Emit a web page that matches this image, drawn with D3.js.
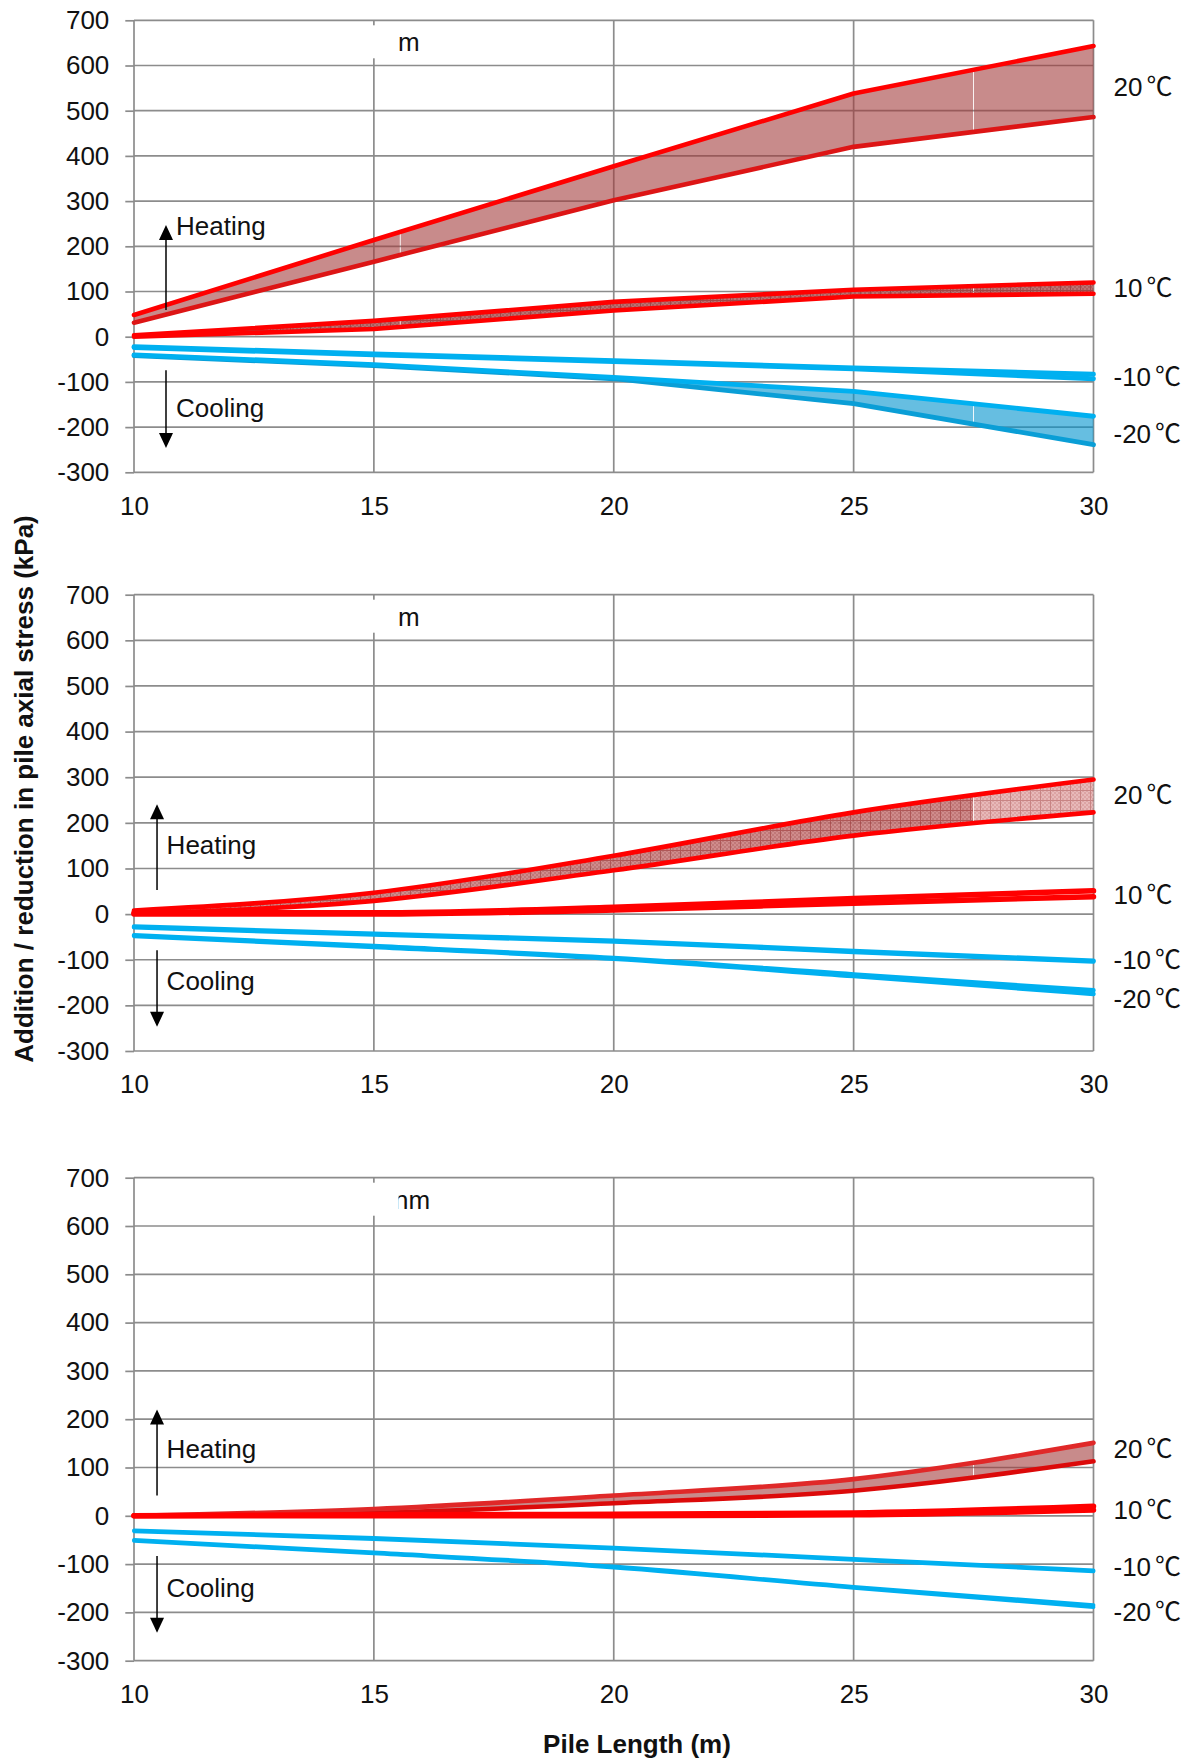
<!DOCTYPE html>
<html>
<head>
<meta charset="utf-8">
<script src="https://cdn.jsdelivr.net/npm/d3@7"></script>
<style>
  body { margin: 0; background: #fff; }
  text { font-family: "Liberation Sans", Arial, "Noto Sans CJK JP", sans-serif; fill: #111; }
  .deg { font-family: "Noto Sans CJK JP", sans-serif; }
</style>
</head>
<body>
<svg id="chart" width="1191" height="1762"></svg>
<script>
// ---- data -------------------------------------------------------------
const pileLength   = [10, 15, 20, 25, 30];
const lengthTicks  = [10, 15, 20, 25, 30];
const stressTicks  = [-300, -200, -100, 0, 100, 200, 300, 400, 500, 600, 700];
const tempLabels   = ["20", "10", "-10", "-20"];   // shown with a ℃ suffix

// Panel A: upper / lower envelope of the axial stress change (kPa)
const a20Upper  = [48, 214, 377, 538, 643];
const a20Lower  = [31, 166, 302, 420, 486];
const a10Upper  = [3, 35, 77, 104, 120];
const a10Lower  = [0, 17, 58, 89, 95];
const aM10Upper = [-22, -38, -53, -69, -83];
const aM10Lower = [-24, -40, -55, -71, -93];
const aM20Upper = [-40, -62, -90, -121, -176];
const aM20Lower = [-42, -64, -93, -148, -239];

// Panel B
const b20Upper  = [8, 47, 128, 223, 295];
const b20Lower  = [1, 29, 96, 172, 223];
const b10Upper  = [3, 3, 15, 34, 51];
const b10Lower  = [0, 0, 9, 24, 38];
const bM10Upper = [-27, -43, -58, -81, -102];
const bM10Lower = [-29, -45, -60, -83, -104];
const bM20Upper = [-46, -70, -96, -132, -167];
const bM20Lower = [-48, -72, -98, -136, -175];

// Panel C
const c20Upper  = [0, 14, 42, 76, 151];
const c20Lower  = [0, 6, 26, 52, 113];
const c10Upper  = [0, 2, 3, 6, 20];
const c10Lower  = [0, 0, 0, 2, 12];
const cM10Upper = [-30, -46, -66, -89, -113];
const cM10Lower = [-32, -48, -68, -91, -115];
const cM20Upper = [-50, -76, -105, -147, -185];
const cM20Lower = [-52, -78, -107, -149, -189];

// stress level (kPa) at which each temperature label sits beside the plot
const aLabelAt = [553, 107, -88, -214];
const bLabelAt = [261, 42, -101, -185];
const cLabelAt = [139, 12, -106, -199];

// ---- layout & styling -------------------------------------------------
const svg = d3.select("#chart");
const x = d3.scaleLinear().domain([10, 30]).range([134, 1093.5]);
const GRID = "#8c8c8c";
const RED = "#ff0000", RED_DK = "#dd1515", BLUE = "#00b0f0", BLUE_DK = "#0a9ed6";
const FS = 26;

const defs = svg.append("defs");

// cross-hatched fill used for some of the envelopes
function hatch(id, bg, dot, line, opacity) {
  const p = defs.append("pattern").attr("id", id)
    .attr("width", 10).attr("height", 10).attr("patternUnits", "userSpaceOnUse");
  const g = p.append("g").attr("opacity", opacity);
  g.append("rect").attr("width", 10).attr("height", 10).attr("fill", bg);
  for (let i = 0; i < 5; i++) for (let j = 0; j < 5; j++)
    if ((i + j) % 2) g.append("rect").attr("x", i * 2).attr("y", j * 2)
      .attr("width", 2).attr("height", 2).attr("fill", dot);
  g.append("path").attr("d", "M0 0.5H10M0.5 0V10").attr("stroke", line).attr("stroke-width", 1);
}
hatch("hatchDark", "#cc8282", "#bb6c6c", "#a84848", 0.92);
hatch("hatchLight", "#e6b3b3", "#d99c9c", "#c47a7a", 0.92);
hatch("hatchThin", "#b86a6a", "#a85555", "#9a4040", 0.95);

const SOLID_RED = "rgba(160,55,55,0.58)";
const SOLID_BLUE = "rgba(0,147,205,0.6)";

const panels = [
  {
    top: 20.3, bottom: 472.3, curve: d3.curveLinear, seams: [15.55, 27.5],
    labelAt: aLabelAt, tag: "m", tagClip: false,
    arrow: { x: 10.667, tx: 10.875, hTip: 247, hBase: 59, hText: 225, cTop: -74, cTip: -246, cText: -178 },
    series: [
      { hi: a20Upper, lo: a20Lower, fill: [SOLID_RED, SOLID_RED, SOLID_RED], cHi: RED, cLo: RED_DK, w: 4.6 },
      { hi: a10Upper, lo: a10Lower, fill: ["url(#hatchThin)"], cHi: RED, cLo: RED, w: 4.6 },
      { hi: aM10Upper, lo: aM10Lower, fill: null, cHi: BLUE, cLo: BLUE, w: 4.8 },
      { hi: aM20Upper, lo: aM20Lower, fill: [SOLID_BLUE, SOLID_BLUE, SOLID_BLUE], cHi: BLUE, cLo: BLUE_DK, w: 4.8 }
    ]
  },
  {
    top: 594.7, bottom: 1051, curve: d3.curveMonotoneX, seams: [27.5],
    labelAt: bLabelAt, tag: "m", tagClip: false,
    arrow: { x: 10.48, tx: 10.68, hTip: 241, hBase: 53, hText: 132, cTop: -79, cTip: -247, cText: -166 },
    series: [
      { hi: b20Upper, lo: b20Lower, fill: ["url(#hatchDark)", "url(#hatchLight)"], cHi: RED, cLo: RED, w: 4.6 },
      { hi: b10Upper, lo: b10Lower, fill: null, cHi: RED, cLo: RED, w: 5.5 },
      { hi: bM10Upper, lo: bM10Lower, fill: null, cHi: BLUE, cLo: BLUE, w: 4.4 },
      { hi: bM20Upper, lo: bM20Lower, fill: null, cHi: BLUE, cLo: BLUE, w: 4.4 }
    ]
  },
  {
    top: 1177.7, bottom: 1660.7, curve: d3.curveMonotoneX, seams: [27.5],
    labelAt: cLabelAt, tag: "nm", tagClip: true,
    arrow: { x: 10.48, tx: 10.68, hTip: 220, hBase: 42, hText: 119, cTop: -83, cTip: -242, cText: -168 },
    series: [
      { hi: c20Upper, lo: c20Lower, fill: [SOLID_RED, SOLID_RED], cHi: "#e02828", cLo: "#dc0a0a", w: 4.6 },
      { hi: c10Upper, lo: c10Lower, fill: null, cHi: RED, cLo: RED, w: 5.5 },
      { hi: cM10Upper, lo: cM10Lower, fill: null, cHi: BLUE, cLo: BLUE, w: 3.8 },
      { hi: cM20Upper, lo: cM20Lower, fill: null, cHi: BLUE, cLo: BLUE, w: 3.8 }
    ]
  }
];

panels.forEach((p, pi) => {
  const y = d3.scaleLinear().domain([-300, 700]).range([p.bottom, p.top]);
  const g = svg.append("g").attr("class", "panel");

  // horizontal gridlines
  g.append("g").selectAll("line").data(stressTicks).join("line")
    .attr("x1", x(10)).attr("x2", x(30))
    .attr("y1", d => y(d)).attr("y2", d => y(d))
    .attr("stroke", GRID).attr("stroke-width", 1.7);
  // vertical gridlines (incl. frame sides)
  g.append("g").selectAll("line").data(lengthTicks).join("line")
    .attr("x1", d => x(d)).attr("x2", d => x(d))
    .attr("y1", y(700)).attr("y2", y(-300))
    .attr("stroke", GRID).attr("stroke-width", 1.7);

  // y axis ticks and labels
  const ya = g.append("g").attr("transform", `translate(${x(10)},0)`)
    .call(d3.axisLeft(y).tickValues(stressTicks).tickSize(8.7).tickPadding(16).tickFormat(d => String(d)));
  ya.select(".domain").remove();
  ya.selectAll(".tick line").attr("stroke", GRID).attr("stroke-width", 1.7);
  ya.selectAll(".tick text").attr("font-size", FS).attr("font-family", null).attr("fill", "#111");

  // x axis labels
  const xa = g.append("g").attr("transform", `translate(0,${y(-300)})`)
    .call(d3.axisBottom(x).tickValues(lengthTicks).tickSize(0).tickPadding(24).tickFormat(d => String(d)));
  xa.select(".domain").remove();
  xa.selectAll(".tick text").attr("font-size", FS).attr("font-family", null).attr("fill", "#111");

  // caption box near the top of the plot
  g.append("rect").attr("x", 300).attr("y", p.top + 5).attr("width", 210).attr("height", 33)
    .attr("fill", "#fff");
  const tag = g.append("text").attr("x", p.tagClip ? 394 : 398).attr("y", p.top + 31)
    .attr("font-size", FS).text(p.tag);
  if (p.tagClip) {
    defs.append("clipPath").attr("id", `tagClip${pi}`).append("rect")
      .attr("x", 398.5).attr("y", p.top).attr("width", 100).attr("height", 40);
    tag.attr("clip-path", `url(#tagClip${pi})`);
  }

  // envelope fills, split into strips at the seams
  const edges = [10, ...p.seams, 30];
  edges.slice(0, -1).forEach((e, si) => {
    const x0 = si === 0 ? x(10) - 4 : x(e) + 0.45;
    const x1 = si === edges.length - 2 ? x(30) + 4 : x(edges[si + 1]) - 0.45;
    defs.append("clipPath").attr("id", `strip${pi}_${si}`).append("rect")
      .attr("x", x0).attr("y", p.top - 20).attr("width", x1 - x0).attr("height", p.bottom - p.top + 40);
  });

  p.series.forEach(s => {
    if (!s.fill) return;
    const area = d3.area().curve(p.curve)
      .x((d, i) => x(pileLength[i])).y0((d, i) => y(s.lo[i])).y1(d => y(d));
    edges.slice(0, -1).forEach((e, si) => {
      g.append("path").datum(s.hi).attr("d", area)
        .attr("fill", s.fill[Math.min(si, s.fill.length - 1)])
        .attr("clip-path", `url(#strip${pi}_${si})`);
    });
  });

  // envelope boundary lines
  p.series.forEach(s => {
    const line = d3.line().curve(p.curve).x((d, i) => x(pileLength[i])).y(d => y(d));
    [[s.lo, s.cLo], [s.hi, s.cHi]].forEach(([vals, col]) => {
      g.append("path").datum(vals).attr("d", line)
        .attr("fill", "none").attr("stroke", col).attr("stroke-width", s.w)
        .attr("stroke-linecap", "round").attr("stroke-linejoin", "round");
    });
  });

  // temperature labels
  const lab = g.append("g").selectAll("text").data(tempLabels).join("text")
    .attr("x", x(30) + 20).attr("y", (d, i) => y(p.labelAt[i])).attr("dy", "0.35em")
    .attr("font-size", FS);
  lab.append("tspan").text(d => d);
  lab.append("tspan").attr("class", "deg").attr("dx", 4).text("℃");

  // heating / cooling arrows
  const a = p.arrow, ax = x(a.x);
  const head = (tipY, dir) =>
    `M${ax},${tipY}L${ax - 7},${tipY + dir * 15}L${ax + 7},${tipY + dir * 15}Z`;
  g.append("line").attr("x1", ax).attr("x2", ax).attr("y1", y(a.hBase)).attr("y2", y(a.hTip) + 10)
    .attr("stroke", "#000").attr("stroke-width", 1.5);
  g.append("path").attr("d", head(y(a.hTip), 1)).attr("fill", "#000");
  g.append("line").attr("x1", ax).attr("x2", ax).attr("y1", y(a.cTop)).attr("y2", y(a.cTip) - 10)
    .attr("stroke", "#000").attr("stroke-width", 1.5);
  g.append("path").attr("d", head(y(a.cTip), -1)).attr("fill", "#000");
  g.append("text").attr("x", x(a.tx)).attr("y", y(a.hText)).attr("font-size", FS).text("Heating");
  g.append("text").attr("x", x(a.tx)).attr("y", y(a.cText)).attr("font-size", FS).text("Cooling");
});

// axis titles
svg.append("text").attr("transform", "translate(32.5,789) rotate(-90)")
  .attr("text-anchor", "middle").attr("font-size", 26).attr("font-weight", "bold")
  .text("Addition / reduction in pile axial stress (kPa)");
svg.append("text").attr("x", 637).attr("y", 1753)
  .attr("text-anchor", "middle").attr("font-size", 26).attr("font-weight", "bold")
  .text("Pile Length (m)");
</script>
</body>
</html>
